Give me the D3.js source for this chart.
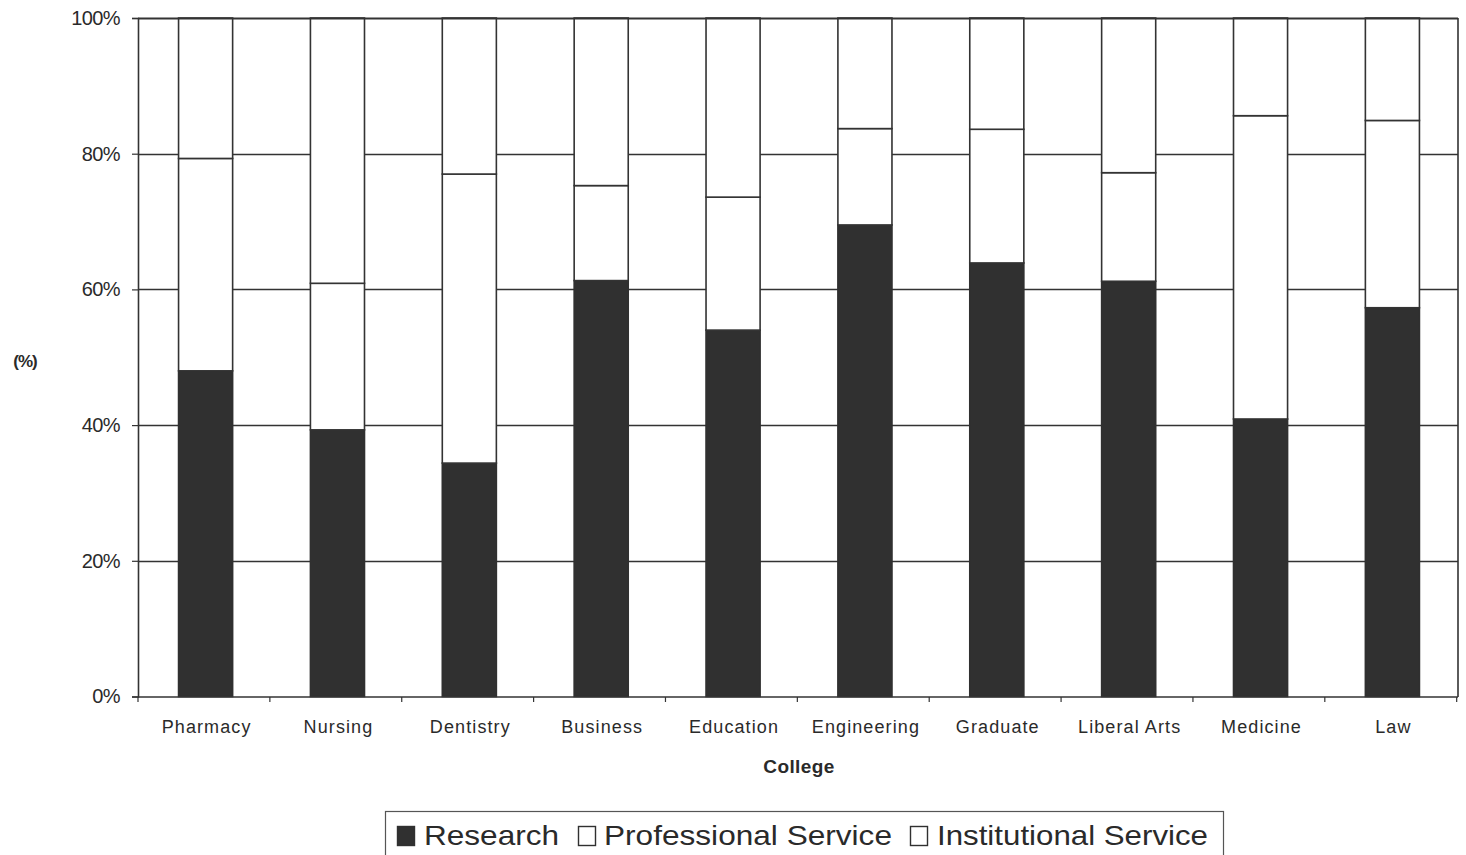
<!DOCTYPE html>
<html>
<head>
<meta charset="utf-8">
<script src="https://cdn.jsdelivr.net/npm/d3@7/dist/d3.min.js"></script>
<style>
  html, body { margin: 0; padding: 0; background: #fff; }
  svg { display: block; }
  text { font-family: "Liberation Sans", Arial, sans-serif; fill: #2a2a2a; }
</style>
</head>
<body>
<svg id="chart" width="1466" height="855"></svg>
<script>
const categories = ["Pharmacy", "Nursing", "Dentistry", "Business", "Education", "Engineering", "Graduate", "Liberal Arts", "Medicine", "Law"];
const seriesNames = ["Research", "Professional Service", "Institutional Service"];
const research = [48.0, 39.3, 34.4, 61.3, 54.0, 69.5, 63.9, 61.2, 40.9, 57.3];
const professional = [31.3, 21.6, 42.6, 14.0, 19.6, 14.2, 19.7, 16.0, 44.7, 27.6];
const institutional = [20.7, 39.1, 23.0, 24.7, 26.4, 16.3, 16.4, 22.8, 14.4, 15.1];
const yTicks = [0, 20, 40, 60, 80, 100];
const seriesColors = ["#303030", "#ffffff", "#ffffff"];

const svg = d3.select("#chart");
const margin = { left: 138, right: 8, top: 18, bottom: 158 };
const W = 1466, H = 855;
const x0 = margin.left, x1 = W - margin.right, y0 = H - margin.bottom, y1 = margin.top;

const x = d3.scaleBand().domain(categories).range([x0, x1]).paddingInner(0.59).paddingOuter(0.30);
const y = d3.scaleLinear().domain([0, 100]).range([y0 - 0.5, y1]);

const rows = categories.map((c, i) => ({ college: c, Research: research[i], "Professional Service": professional[i], "Institutional Service": institutional[i] }));
const stacked = d3.stack().keys(seriesNames)(rows);

const lineColor = "#333";

// gridlines
svg.append("g").selectAll("line").data(yTicks.filter(t => t > 0 && t < 100)).join("line")
  .attr("x1", x0).attr("x2", x1)
  .attr("y1", d => Math.round(y(d)) + 0.5).attr("y2", d => Math.round(y(d)) + 0.5)
  .attr("stroke", lineColor).attr("stroke-width", 1.3);

// bars
svg.append("g").selectAll("g").data(stacked).join("g")
  .attr("fill", (d, i) => seriesColors[i])
  .selectAll("rect").data(d => d.map(v => ({ v, key: d.key }))).join("rect")
  .attr("x", d => x(d.v.data.college) + 1)
  .attr("width", x.bandwidth())
  .attr("y", d => y(d.v[1]))
  .attr("height", d => y(d.v[0]) - y(d.v[1]))
  .attr("stroke", d => d.key === "Research" ? "#303030" : lineColor)
  .attr("stroke-width", 1.6);

// plot border top & right
svg.append("line").attr("x1", x0).attr("x2", x1).attr("y1", y1 + 0.5).attr("y2", y1 + 0.5).attr("stroke", lineColor).attr("stroke-width", 1.8);
svg.append("line").attr("x1", x1).attr("x2", x1).attr("y1", y1).attr("y2", y0).attr("stroke", lineColor).attr("stroke-width", 1.6);

// y axis
const yAxis = svg.append("g").attr("transform", `translate(${x0},0)`)
  .call(d3.axisLeft(y).tickValues(yTicks).tickFormat(d => d + "%").tickSize(6).tickPadding(12));
yAxis.select(".domain").attr("stroke", lineColor).attr("stroke-width", 1.6);
yAxis.selectAll(".tick line").attr("stroke", lineColor).attr("stroke-width", 1.2);
yAxis.selectAll(".tick text").attr("font-size", 20).attr("font-family", "Liberation Sans, Arial, sans-serif").attr("fill", "#2a2a2a").attr("letter-spacing", -0.6);

// x axis
const boundaries = d3.range(categories.length + 1).map(i => x0 + i * x.step());
const xAxisG = svg.append("g");
xAxisG.append("line").attr("x1", x0).attr("x2", x1).attr("y1", y0).attr("y2", y0).attr("stroke", lineColor).attr("stroke-width", 1.6);
xAxisG.selectAll("line.tk").data(boundaries).join("line").attr("class", "tk")
  .attr("x1", d => d).attr("x2", d => d).attr("y1", y0).attr("y2", y0 + 5)
  .attr("stroke", lineColor).attr("stroke-width", 1.2);
xAxisG.selectAll("text").data(categories).join("text")
  .attr("x", d => x(d) + x.bandwidth() / 2 + 2)
  .attr("y", y0 + 36)
  .attr("text-anchor", "middle")
  .attr("font-size", 18)
  .attr("letter-spacing", 1.1)
  .text(d => d);

// axis titles
svg.append("text").attr("x", 25).attr("y", 367).attr("text-anchor", "middle")
  .attr("font-size", 17).attr("font-weight", "bold").attr("letter-spacing", -1).text("(%)");
svg.append("text").attr("x", 799).attr("y", 773).attr("text-anchor", "middle")
  .attr("font-size", 19).attr("font-weight", "bold").attr("letter-spacing", 0.4).text("College");

// legend
const legend = svg.append("g");
legend.append("rect").attr("x", 385.5).attr("y", 811.5).attr("width", 838).attr("height", 50)
  .attr("fill", "#fff").attr("stroke", "#555").attr("stroke-width", 1.2);
const legendLayout = [
  { sx: 397, tx: 424, tw: 135 },
  { sx: 578, tx: 604, tw: 288 },
  { sx: 910, tx: 937, tw: 271 }
];
seriesNames.forEach((name, i) => {
  const L = legendLayout[i];
  legend.append("rect").attr("x", L.sx + 0.5).attr("y", 826.5).attr("width", 17).attr("height", 19)
    .attr("fill", seriesColors[i]).attr("stroke", "#303030").attr("stroke-width", 1.4);
  legend.append("text").attr("x", L.tx).attr("y", 845).attr("font-size", 28)
    .attr("textLength", L.tw).attr("lengthAdjust", "spacingAndGlyphs").text(name);
});
</script>
</body>
</html>
